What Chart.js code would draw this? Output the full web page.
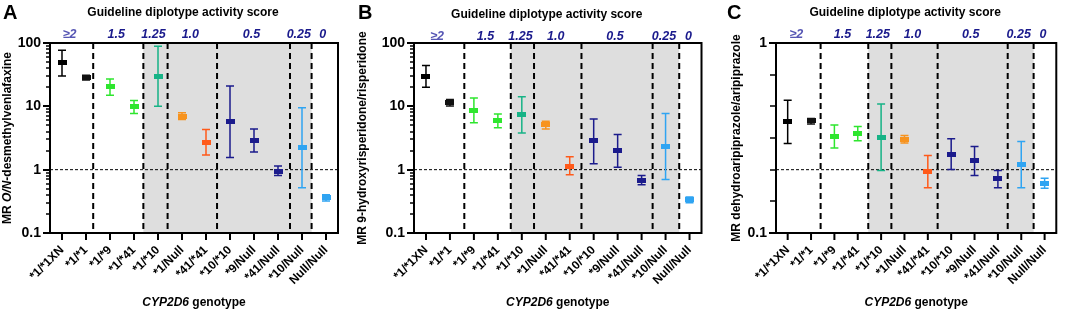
<!DOCTYPE html>
<html><head><meta charset="utf-8">
<script src="https://cdn.jsdelivr.net/npm/chart.js@4.4.1/dist/chart.umd.min.js"></script>
<style>
html,body{margin:0;padding:0;background:#fff;width:1065px;height:312px;overflow:hidden}
canvas{position:absolute;top:0}
</style></head><body>
<canvas id="cA" width="355" height="312" style="left:0px"></canvas>
<canvas id="cB" width="355" height="312" style="left:355px"></canvas>
<canvas id="cC" width="355" height="312" style="left:710px"></canvas>
<script>
// ---------- data ----------
const genotypes = ['*1/*1XN','*1/*1','*1/*9','*1/*41','*1/*10','*1/Null','*41/*41','*10/*10','*9/Null','*41/Null','*10/Null','Null/Null'];
const activityScores = ['\u22652','1.5','1.25','1.0','0.5','0.25','0'];
const pointColors = ['#000000','#111111','#2ee62e','#2ee62e','#17b386','#f7931e','#ff5a1a','#1b1b8c','#1b1b8c','#1b1b8c','#2fa4f2','#2fa4f2'];

// Panel A: O-desmethylvenlafaxine / venlafaxine
const venMedian = [49, 28.4, 20.2, 9.8, 29.8, 7.0, 2.7, 5.8, 2.9, 0.95, 2.2, 0.36];
const venUpper  = [77, 31, 27, 12.4, 89, 7.9, 4.3, 21, 4.4, 1.14, 9.5, 0.40];
const venLower  = [30, 26, 15, 7.7, 10, 6.2, 1.7, 1.55, 1.9, 0.81, 0.52, 0.32];

// Panel B: 9-hydroxyrisperidone / risperidone
const risMedian = [30, 11.3, 8.6, 5.9, 7.5, 5.1, 1.14, 2.84, 2.0, 0.68, 2.33, 0.34];
const risUpper  = [44, 12.8, 13.6, 7.6, 14.2, 5.8, 1.6, 6.3, 3.6, 0.81, 7.7, 0.37];
const risLower  = [20, 10.1, 5.5, 4.6, 3.8, 4.4, 0.83, 1.24, 1.09, 0.58, 0.70, 0.30];

// Panel C: dehydroaripiprazole / aripiprazole
const ariMedian = [0.385, 0.39, 0.322, 0.333, 0.32, 0.312, 0.211, 0.26, 0.24, 0.193, 0.229, 0.182];
const ariUpper  = [0.50, 0.40, 0.37, 0.363, 0.477, 0.326, 0.256, 0.313, 0.285, 0.213, 0.303, 0.194];
const ariLower  = [0.296, 0.375, 0.28, 0.306, 0.213, 0.298, 0.173, 0.216, 0.201, 0.173, 0.173, 0.172];

// y-axis ticks
const yTicksWide = [0.1,0.2,0.3,0.4,0.5,0.6,0.7,0.8,0.9,1,2,3,4,5,6,7,8,9,10,20,30,40,50,60,70,80,90,100];
const yTicksNarrow = [0.1, 0.1468, 0.2154, 0.3162, 0.4642, 0.6813, 1];

// activity-score group boundaries (in category units)
const boundsA = [1.30, 3.39, 4.40, 6.46, 9.5, 10.4];
const boundsB = [1.60, 3.54, 4.51, 6.49, 9.46, 10.57];
const boundsC = [1.41, 3.45, 4.44, 6.42, 9.42, 10.53];

// ---------- drawing ----------
const FONT = "'Liberation Sans', Arial, Helvetica, sans-serif";

function makeMarker(color){
  const c = document.createElement('canvas'); c.width = 9; c.height = 5;
  const g = c.getContext('2d'); g.fillStyle = color; g.fillRect(0,0,9,5); return c;
}
const markers = pointColors.map(makeMarker);

function drawRich(ctx, segs, cx, cy, size, rot){
  ctx.save();
  ctx.translate(cx, cy); if (rot) ctx.rotate(rot);
  let w = 0;
  segs.forEach(s => { ctx.font = (s.i ? 'italic ' : '') + 'bold ' + size + 'px ' + FONT; w += ctx.measureText(s.t).width; });
  let x = -w/2;
  ctx.textBaseline = 'middle'; ctx.textAlign = 'left'; ctx.fillStyle = '#000';
  segs.forEach(s => { ctx.font = (s.i ? 'italic ' : '') + 'bold ' + size + 'px ' + FONT; ctx.fillText(s.t, x, 0); x += ctx.measureText(s.t).width; });
  ctx.restore();
}

const isMajor = v => Math.abs(Math.log10(v) - Math.round(Math.log10(v))) < 1e-6;

const panelPlugin = {
  id: 'panel',
  beforeDatasetsDraw(chart, args, o){
    const {ctx, chartArea: a, scales: {x, y}} = chart;
    const bx = o.bounds.map(b => x.getPixelForValue(b));
    ctx.save();
    ctx.fillStyle = '#dedede';
    ctx.fillRect(bx[1], a.top, bx[5] - bx[1], a.bottom - a.top);
    ctx.strokeStyle = '#000';
    ctx.lineWidth = 2; ctx.setLineDash([6,4]);
    bx.forEach(px => { ctx.beginPath(); ctx.moveTo(px, a.top); ctx.lineTo(px, a.bottom); ctx.stroke(); });
    const ry = y.getPixelForValue(o.ref);
    ctx.lineWidth = 1; ctx.setLineDash([3,2]);
    ctx.beginPath(); ctx.moveTo(a.left, ry); ctx.lineTo(a.right, ry); ctx.stroke();
    ctx.setLineDash([]);
    o.upper.forEach((u, i) => {
      const px = x.getPixelForValue(i);
      const yu = y.getPixelForValue(u), yl = y.getPixelForValue(o.lower[i]);
      ctx.strokeStyle = pointColors[i]; ctx.lineWidth = 1.5;
      ctx.beginPath();
      ctx.moveTo(px, yu); ctx.lineTo(px, yl);
      ctx.moveTo(px-4, yu); ctx.lineTo(px+4, yu);
      ctx.moveTo(px-4, yl); ctx.lineTo(px+4, yl);
      ctx.stroke();
    });
    ctx.restore();
  },
  afterDraw(chart, args, o){
    const {ctx, chartArea: a, scales: {x, y}} = chart;
    ctx.save();
    ctx.strokeStyle = '#000'; ctx.lineWidth = 2;
    ctx.strokeRect(a.left, a.top, a.right - a.left, a.bottom - a.top);
    // y ticks
    y.ticks.forEach(t => {
      const py = Math.round(y.getPixelForValue(t.value));
      const maj = isMajor(t.value);
      const len = maj ? 7 : o.minorLen;
      ctx.lineWidth = maj ? 2 : 1.5;
      ctx.beginPath(); ctx.moveTo(a.left - len, py); ctx.lineTo(a.left, py); ctx.stroke();
    });
    // x ticks
    ctx.lineWidth = 2;
    genotypes.forEach((g, i) => {
      const px = x.getPixelForValue(i);
      ctx.beginPath(); ctx.moveTo(px, a.bottom); ctx.lineTo(px, a.bottom + 7); ctx.stroke();
    });
    // panel letter
    ctx.fillStyle = '#000'; ctx.font = 'bold 20px ' + FONT; ctx.textAlign = 'left'; ctx.textBaseline = 'alphabetic';
    ctx.fillText(o.letter, o.letterX, 19);
    // header
    ctx.font = 'bold 12px ' + FONT; ctx.textAlign = 'center'; ctx.textBaseline = 'middle';
    ctx.fillText('Guideline diplotype activity score', (a.left + a.right)/2 - 11, o.titleY);
    // activity scores
    const edges = [a.left].concat(o.bounds.map(b => x.getPixelForValue(b)), [a.right]);
    ctx.font = 'italic bold 12.5px ' + FONT;
    activityScores.forEach((s, i) => {
      ctx.fillStyle = i === 0 ? '#5656b4' : '#1a1a8c';
      ctx.fillText(s, (edges[i] + edges[i+1])/2 - 2, o.titleY + 22);
    });
    // axis titles
    drawRich(ctx, o.yTitle, o.yTitleX, (a.top + a.bottom)/2, 12, -Math.PI/2);
    drawRich(ctx, [{t:'CYP2D6', i:true},{t:' genotype'}], (a.left + a.right)/2, 303, 12, 0);
    ctx.restore();
  }
};

function makePanel(id, med, up, lo, yMin, yMax, yTicks, bounds, ref, yWidth, padRight, extra){
  return new Chart(document.getElementById(id), {
    type: 'line',
    data: {
      labels: genotypes,
      datasets: [{
        data: med, showLine: false,
        pointStyle: markers, pointRadius: 4, pointHoverRadius: 4,
        pointBackgroundColor: pointColors, pointBorderColor: pointColors
      }]
    },
    options: {
      responsive: false, animation: false, devicePixelRatio: 1,
      layout: { padding: { left: 0, right: padRight, top: 43, bottom: 0 } },
      plugins: {
        legend: { display: false }, tooltip: { enabled: false },
        panel: Object.assign({ upper: up, lower: lo, bounds: bounds, ref: ref }, extra)
      },
      scales: {
        x: {
          type: 'category', offset: true,
          grid: { display: false, drawTicks: false }, border: { display: false },
          ticks: { autoSkip: false, minRotation: 45, maxRotation: 45, padding: 10, color: '#000',
                   font: { family: FONT, size: 12, weight: 'bold' } },
          afterFit: s => { s.height = 312 - 233; }
        },
        y: {
          type: 'logarithmic', min: yMin, max: yMax,
          afterBuildTicks: s => { s.ticks = yTicks.map(v => ({ value: v })); },
          grid: { display: false, drawTicks: false }, border: { display: false },
          ticks: { autoSkip: false, padding: 9, color: '#000',
                   font: { family: FONT, size: 14, weight: 'bold' },
                   callback: v => isMajor(v) ? String(+v.toPrecision(3)) : '' },
          afterFit: s => { s.width = yWidth; }
        }
      }
    },
    plugins: [panelPlugin]
  });
}

makePanel('cA', venMedian, venUpper, venLower, 0.1, 100, yTicksWide, boundsA, 1, 50, 17,
  { letter: 'A', letterX: 3, titleY: 13, minorLen: 4, yTitleX: 8,
    yTitle: [{t:'MR '},{t:'O/N',i:true},{t:'-desmethylvenlafaxine'}] });
makePanel('cB', risMedian, risUpper, risLower, 0.1, 100, yTicksWide, boundsB, 1, 59, 7,
  { letter: 'B', letterX: 3, titleY: 15, minorLen: 4, yTitleX: 8,
    yTitle: [{t:'MR 9-hydroxyrisperidone/risperidone'}] });
makePanel('cC', ariMedian, ariUpper, ariLower, 0.1, 1, yTicksNarrow, boundsC, 0.2154, 66, 3,
  { letter: 'C', letterX: 17, titleY: 13, minorLen: 6, yTitleX: 27,
    yTitle: [{t:'MR dehydroaripiprazole/aripiprazole'}] });
</script>
</body></html>
